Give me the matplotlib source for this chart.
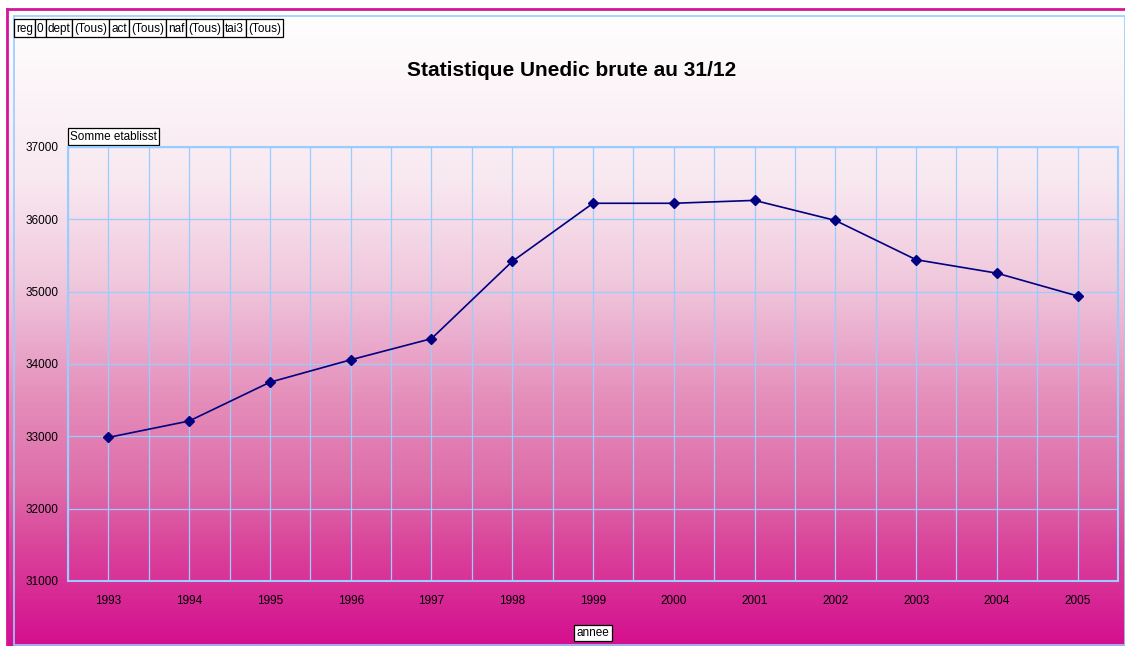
import numpy as np
import matplotlib
matplotlib.use("Agg")
import matplotlib.pyplot as plt
from matplotlib.colors import LinearSegmentedColormap
from matplotlib.patches import Rectangle

plt.rcParams['font.family'] = ['Liberation Sans', 'DejaVu Sans']

# données
annees = ['1993', '1994', '1995', '1996', '1997', '1998', '1999',
          '2000', '2001', '2002', '2003', '2004', '2005']
etablissements = [32985, 33212, 33748, 34058, 34350, 35418, 36222,
                  36222, 36262, 35985, 35442, 35256, 34940]
champs = ['reg', '0', 'dept', '(Tous)', 'act', '(Tous)', 'naf', '(Tous)', 'tai3', '(Tous)']
titre = 'Statistique Unedic brute au 31/12'

W, H = 1125, 646
fig = plt.figure(figsize=(W / 100, H / 100), dpi=100)

# fond en dégradé (coordonnées pixels)
bg = fig.add_axes([0, 0, 1, 1], zorder=-1)
bg.set_xlim(0, W)
bg.set_ylim(H, 0)
bg.axis('off')
stops = [(0.0, (1.0, 1.0, 1.0)),
         (170 / 630, (248 / 255, 232 / 255, 240 / 255)),
         (270 / 630, (240 / 255, 200 / 255, 220 / 255)),
         (310 / 630, (236 / 255, 180 / 255, 210 / 255)),
         (390 / 630, (228 / 255, 140 / 255, 185 / 255)),
         (470 / 630, (222 / 255, 110 / 255, 170 / 255)),
         (530 / 630, (218 / 255, 70 / 255, 155 / 255)),
         (1.0, (213 / 255, 15 / 255, 143 / 255))]
cmap = LinearSegmentedColormap.from_list('fond', stops)
grad = np.linspace(0, 1, 400).reshape(-1, 1)
bg.imshow(grad, cmap=cmap, aspect='auto', extent=(7, W, H, 9), interpolation='bilinear')
bg.plot([7, 7], [9, H], color='#d4159a', lw=2)
bg.plot([7, W], [9, 9], color='#d4159a', lw=2)
bg.add_patch(Rectangle((14, 16), W - 14, H - 17, fill=False, ec='#99ccff', lw=1.2))

# boutons de champs de page
renderer = fig.canvas.get_renderer()
x0 = 14
for c in champs:
    t = bg.text(x0 + 2, 32, c, fontsize=8.5, va='baseline', ha='left')
    bb = t.get_window_extent(renderer)
    w = bb.width
    bg.add_patch(Rectangle((x0, 19), w + 4, 18, fill=True, fc='white', ec='black', lw=0.9, zorder=1))
    t.set_zorder(2)
    x0 += w + 4

bg.text(572, 71, titre, fontsize=15, fontweight='bold', ha='center', va='center')
bg.text(70, 136.5, 'Somme etablisst', fontsize=8.5, ha='left', va='center',
        bbox=dict(boxstyle='square,pad=0.2', fc='white', ec='black', lw=0.9))
bg.text(593, 633, 'annee', fontsize=8.5, ha='center', va='center',
        bbox=dict(boxstyle='square,pad=0.2', fc='white', ec='black', lw=0.9))

# zone de traçage
ax = fig.add_axes([68 / W, 1 - 581 / H, 1050 / W, 434 / H])
ax.patch.set_alpha(0)
x = np.arange(len(annees))
ax.plot(x, etablissements, color='#000080', lw=1.2, marker='D', markersize=5, zorder=3)

ax.set_xlim(-0.5, len(annees) - 0.5)
ax.set_ylim(31000, 37000)
ax.set_yticks(np.arange(31000, 37001, 1000))
ax.set_xticks(x)
ax.set_xticklabels(annees)
ax.set_xticks(np.arange(-0.5, len(annees), 1.0), minor=True)
ax.tick_params(axis='both', which='both', length=0, labelsize=8.5)
ax.tick_params(axis='x', pad=10)
ax.tick_params(axis='y', pad=7)
ax.grid(True, which='both', color='#99ccff', lw=0.9)
for s in ax.spines.values():
    s.set_color('#99ccff')
    s.set_linewidth(1.5)

fig.savefig('out.png', dpi=100)
